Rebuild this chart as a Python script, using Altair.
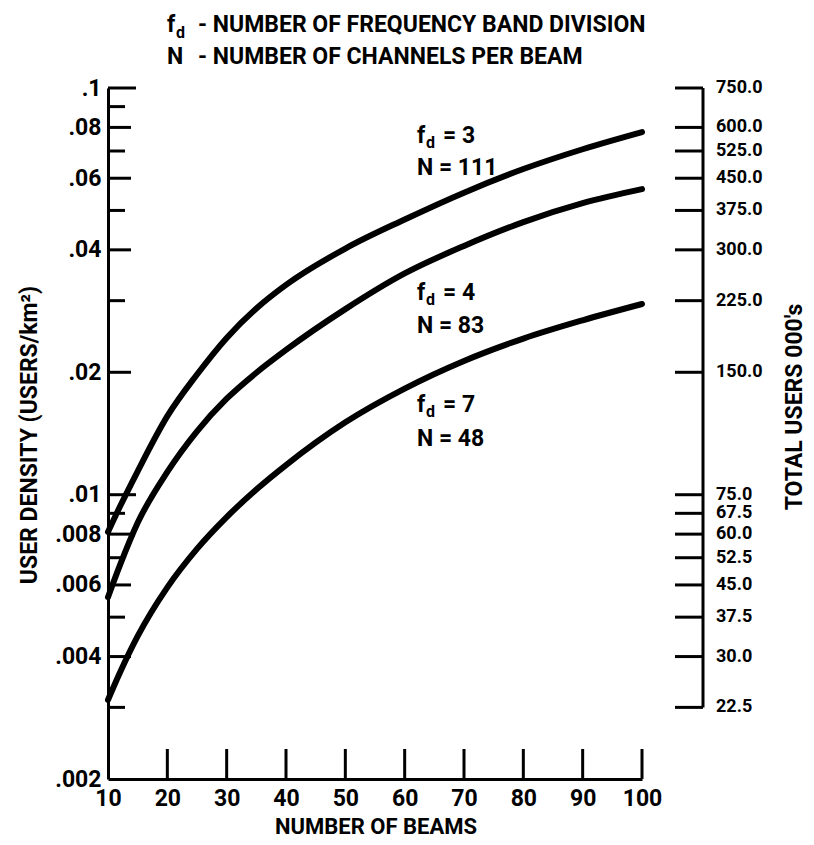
import altair as alt
import pandas as pd

# ---------------- data ----------------
beams = [10, 12, 15, 20, 25, 30, 35, 40, 50, 60, 70, 80, 90, 100]
density_fd3 = [0.0081, 0.00934, 0.01142, 0.0156, 0.01975, 0.0243, 0.0287, 0.0328,
               0.0403, 0.0475, 0.0553, 0.0632, 0.0707, 0.0779]
density_fd4 = [0.0056, 0.0067, 0.00853, 0.01138, 0.01432, 0.01722, 0.01995, 0.0227,
               0.0286, 0.0350, 0.0409, 0.0468, 0.0521, 0.0564]
density_fd7 = [0.00313, 0.00365, 0.00449, 0.00592, 0.00736, 0.00881, 0.0103, 0.01183,
               0.01507, 0.01824, 0.02133, 0.02421, 0.02685, 0.02944]
curve_names = ["fd=3", "fd=4", "fd=7"]

x_tick_values = [10, 20, 30, 40, 50, 60, 70, 80, 90, 100]
left_decade = [0.1, 0.01]
left_major = [0.08, 0.06, 0.04, 0.02, 0.008, 0.006, 0.004]
left_label_values = [0.1, 0.08, 0.06, 0.04, 0.02, 0.01, 0.008, 0.006, 0.004, 0.002]
left_minor = [0.09, 0.07, 0.05, 0.03, 0.009, 0.007, 0.005, 0.003]
right_values = [0.1, 0.08, 0.07, 0.06, 0.05, 0.04, 0.03, 0.02,
                0.01, 0.009, 0.008, 0.007, 0.006, 0.005, 0.004, 0.003]
right_labels = ["750.0", "600.0", "525.0", "450.0", "375.0", "300.0", "225.0", "150.0",
                "75.0", "67.5", "60.0", "52.5", "45.0", "37.5", "30.0", "22.5"]

# ---------------- layout / style ----------------
FONT = "Roboto, Liberation Sans, sans-serif"
W, H = 534, 691
RIGHT_AXIS_X = W + 61

xscale = alt.Scale(domain=[10, 100], nice=False, zero=False)
yscale = alt.Scale(type="log", domain=[0.002, 0.1], nice=False)

x_axis = alt.Axis(
    values=x_tick_values, format="d", ticks=False, grid=False,
    domainColor="black", domainWidth=3, labelFont=FONT, labelFontSize=23,
    labelFontWeight="bold", labelColor="black", labelPadding=8,
    labelFlush=False, labelOverlap=False, title=None)
y_axis = alt.Axis(
    values=left_label_values, labelExpr="substring(format(datum.value, '~g'), 1)",
    ticks=False, grid=False, domainColor="black", domainWidth=3,
    labelFont=FONT, labelFontSize=23, labelFontWeight="bold", labelColor="black",
    labelPadding=7, labelFlush=False, labelOverlap=False, title=None)

curves = pd.DataFrame({
    "beams": beams * 3,
    "v": density_fd3 + density_fd4 + density_fd7,
    "curve": sum([[n] * len(beams) for n in curve_names], []),
})

lines = alt.Chart(curves).mark_line(
    color="black", strokeWidth=6, strokeCap="round", interpolate="monotone"
).encode(
    x=alt.X("beams:Q", scale=xscale, axis=x_axis),
    y=alt.Y("v:Q", scale=yscale, axis=y_axis),
    detail="curve:N",
)


def yrule(values, x0, x1):
    return alt.Chart(pd.DataFrame({"v": values})).mark_rule(
        color="black", strokeWidth=3
    ).encode(
        y=alt.Y("v:Q", scale=yscale, axis=y_axis),
        x=alt.value(x0), x2=alt.value(x1),
    )


left_ticks = yrule(left_decade, 0, 28) + yrule(left_major, 0, 23) + yrule(left_minor, 0, 17)
right_ticks = yrule(right_values, RIGHT_AXIS_X - 28, RIGHT_AXIS_X)

right_line = alt.Chart(pd.DataFrame({"v": [right_values[0]], "v2": [right_values[-1]]})).mark_rule(
    color="black", strokeWidth=3
).encode(
    x=alt.value(RIGHT_AXIS_X),
    y=alt.Y("v:Q", scale=yscale, axis=y_axis),
    y2="v2:Q",
)

right_text = alt.Chart(pd.DataFrame({"v": right_values, "label": right_labels})).mark_text(
    font=FONT, fontSize=18, fontWeight="bold", color="black", align="left", baseline="middle"
).encode(
    x=alt.value(RIGHT_AXIS_X + 13),
    y=alt.Y("v:Q", scale=yscale, axis=y_axis),
    text="label:N",
)

bottom_ticks = alt.Chart(pd.DataFrame({"t": x_tick_values[1:]})).mark_rule(
    color="black", strokeWidth=3
).encode(
    x=alt.X("t:Q", scale=xscale, axis=x_axis),
    y=alt.value(H - 30), y2=alt.value(H),
)


def label(txt, x, y, size=23, align="left", baseline="alphabetic", angle=None):
    kw = dict(font=FONT, fontSize=size, fontWeight="bold", color="black",
              align=align, baseline=baseline)
    if angle is not None:
        kw["angle"] = angle
    return alt.Chart(pd.DataFrame({"t": [txt]})).mark_text(**kw).encode(
        x=alt.value(x), y=alt.value(y), text="t:N")


texts = [
    # title
    label("f", 59, -56), label("d", 68, -50, size=16), label("- NUMBER OF FREQUENCY BAND DIVISION", 90, -56),
    label("N", 59, -24), label("- NUMBER OF CHANNELS PER BEAM", 90, -24),
    # curve annotations
    label("f", 309, 55), label("d", 318, 60, size=16), label("= 3", 335, 55), label("N = 111", 309, 87),
    label("f", 309, 212), label("d", 318, 217, size=16), label("= 4", 335, 212), label("N = 83", 309, 245),
    label("f", 309, 324), label("d", 318, 329, size=16), label("= 7", 335, 324), label("N = 48", 309, 358),
    # axis titles
    label("NUMBER OF BEAMS", 268, 746, size=22, align="center"),
    label("USER DENSITY (USERS/km²)", -78, 347, align="center", baseline="middle", angle=270),
    label("TOTAL USERS 000's", 687, 319, align="center", baseline="middle", angle=270),
]

chart = alt.layer(
    lines, left_ticks, right_ticks, right_line, right_text, bottom_ticks, *texts
).properties(
    width=W, height=H,
    autosize=alt.AutoSizeParams(type="none"),
    padding={"left": 108, "top": 88, "right": 172, "bottom": 66},
    background="white",
).configure_view(strokeWidth=0)

chart.save("out.html", embed_options={"renderer": "svg", "actions": False})
